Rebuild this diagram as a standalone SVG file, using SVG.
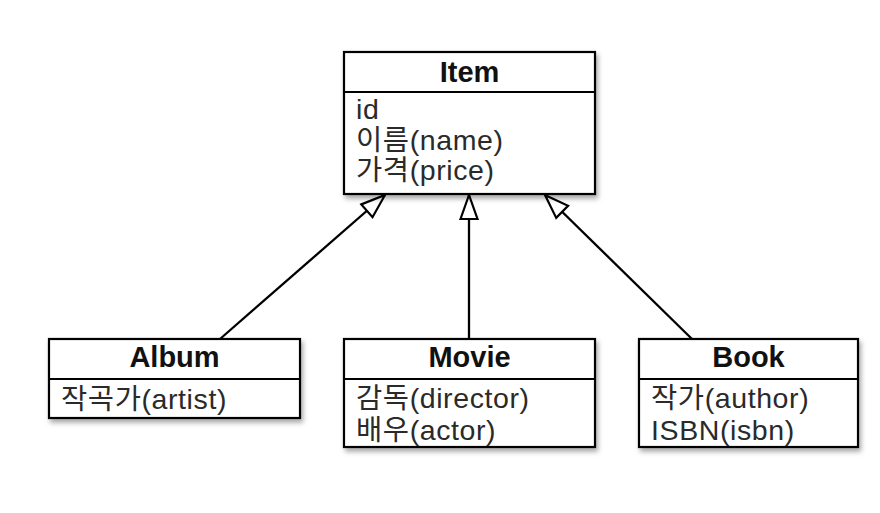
<svg xmlns="http://www.w3.org/2000/svg" width="880" height="513" viewBox="0 0 880 513">
<defs>
<filter id="sh" x="-10%" y="-10%" width="125%" height="130%">
<feDropShadow dx="2" dy="3.5" stdDeviation="2.5" flood-color="#000" flood-opacity="0.35"/>
</filter>
<marker id="tri" markerUnits="userSpaceOnUse" markerWidth="32" markerHeight="24" refX="26" refY="11" orient="auto">
<path d="M2,2.5 L26,11 L2,19.5 Z" fill="#fff" stroke="#000" stroke-width="2.2" stroke-linejoin="miter"/>
</marker>
</defs>
<style>
.box{fill:#fff;stroke:#000;stroke-width:2.2}
.sep{stroke:#000;stroke-width:2.2}
.title{font-family:"Liberation Sans","Noto Sans CJK KR",sans-serif;font-size:29px;font-weight:bold;fill:#111;text-anchor:middle}
.attr{font-family:"Liberation Sans","Noto Sans CJK KR",sans-serif;font-size:28.5px;letter-spacing:0.6px;fill:#2a2a2a}
.conn{stroke:#000;stroke-width:2.3;fill:none;marker-end:url(#tri)}
</style>
<rect width="880" height="513" fill="#fff"/>
<g id="connectors">
<line class="conn" x1="220" y1="339" x2="385" y2="195"/>
<line class="conn" x1="469" y1="339" x2="469" y2="195"/>
<line class="conn" x1="692" y1="339" x2="545" y2="195"/>
</g>
<g id="item">
<rect class="box" x="344" y="52" width="251" height="142" filter="url(#sh)"/>
<line class="sep" x1="344" y1="92" x2="595" y2="92"/>
<text class="title" x="469.5" y="82">Item</text>
<text class="attr" x="356" y="119">id</text>
<text class="attr" x="356" y="150">이름(name)</text>
<text class="attr" x="356" y="180">가격(price)</text>
</g>
<g id="album">
<rect class="box" x="49" y="339" width="251" height="79" filter="url(#sh)"/>
<line class="sep" x1="49" y1="379" x2="300" y2="379"/>
<text class="title" x="174.5" y="367">Album</text>
<text class="attr" x="61" y="409">작곡가(artist)</text>
</g>
<g id="movie">
<rect class="box" x="344" y="339" width="251" height="108" filter="url(#sh)"/>
<line class="sep" x1="344" y1="379" x2="595" y2="379"/>
<text class="title" x="469.5" y="367">Movie</text>
<text class="attr" x="356" y="408">감독(director)</text>
<text class="attr" x="356" y="440">배우(actor)</text>
</g>
<g id="book">
<rect class="box" x="639" y="339" width="219" height="108" filter="url(#sh)"/>
<line class="sep" x1="639" y1="379" x2="858" y2="379"/>
<text class="title" x="748.5" y="367">Book</text>
<text class="attr" x="651" y="408">작가(author)</text>
<text class="attr" x="651" y="440">ISBN(isbn)</text>
</g>
</svg>
